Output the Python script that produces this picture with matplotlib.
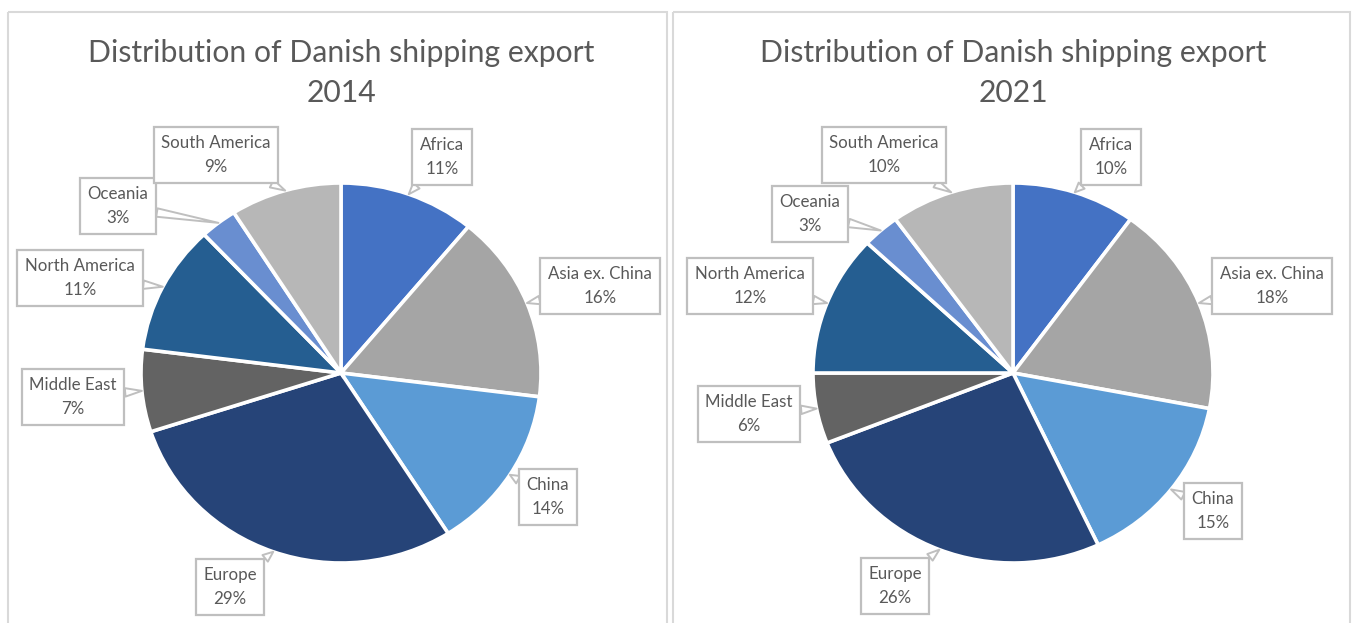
import matplotlib
matplotlib.use("Agg")
import matplotlib.pyplot as plt
from matplotlib.patches import Rectangle
import numpy as np

# ---------------- data ----------------
categories = ["Africa", "Asia ex. China", "China", "Europe", "Middle East",
              "North America", "Oceania", "South America"]
shares_2014 = [11, 16, 14, 29, 7, 11, 3, 9]
shares_2021 = [10, 18, 15, 26, 6, 12, 3, 10]
years = ["2014", "2021"]
title_text = "Distribution of Danish shipping export"

# ---------------- style / layout ----------------
colors = ["#4472C4", "#A5A5A5", "#5B9BD5", "#264478", "#636363",
          "#255E91", "#698ED0", "#B7B7B7"]
FW, FH = 1357, 623
FONT = ["Lato", "DejaVu Sans"]
TEXT_COL = "#595959"
BOX_COL = "#BFBFBF"
RX, RY = 200, 190                       # pie radii in pixels
centers = [(341, 373), (1013, 373)]     # pie centres in pixels
panels = [(8, 12, 659, 640), (673, 12, 677, 640)]
label_pos = [
    [(442, 157), (600, 286), (548, 497), (230, 587), (73, 397), (80, 278), (118, 206), (216, 155)],
    [(1111, 157), (1272, 286), (1213, 511), (895, 586), (749, 414), (750, 286), (810, 214), (884, 155)],
]

fig = plt.figure(figsize=(FW / 100, FH / 100), dpi=100)
bg = fig.add_axes([0, 0, 1, 1])
bg.set_xlim(0, FW)
bg.set_ylim(FH, 0)
bg.axis("off")

for (x0, y0, w, h) in panels:
    bg.add_patch(Rectangle((x0, y0), w, h, fill=False, ec="#D9D9D9", lw=1.5))

for k, (vals, year) in enumerate(zip([shares_2014, shares_2021], years)):
    cx, cy = centers[k]
    W, H = 700, 600
    ax = fig.add_axes([(cx - W / 2) / FW, (FH - cy - H / 2) / FH, W / FW, H / FH])
    wedges, _ = ax.pie(vals, colors=colors, startangle=90, counterclock=False,
                       wedgeprops=dict(edgecolor="white", linewidth=2.6))
    ax.set_aspect("auto")
    ax.set_xlim(-W / 2 / RX, W / 2 / RX)
    ax.set_ylim(-H / 2 / RY, H / 2 / RY)
    ax.axis("off")

    bg.text(cx, 53, title_text, ha="center", va="center", fontsize=21.7,
            color=TEXT_COL, family=FONT)
    bg.text(cx, 93, year, ha="center", va="center", fontsize=21.7,
            color=TEXT_COL, family=FONT)

    total = float(sum(vals))
    for i, w in enumerate(wedges):
        mid = np.deg2rad((w.theta1 + w.theta2) / 2)
        tip = (np.cos(mid), np.sin(mid))
        pct = round(vals[i] / total * 100)
        ax.annotate(f"{categories[i]}\n{pct}%", xy=tip, xycoords="data",
                    xytext=label_pos[k][i], textcoords=bg.transData,
                    ha="center", va="center", fontsize=12.2, color=TEXT_COL,
                    family=FONT, linespacing=1.65, annotation_clip=False,
                    bbox=dict(boxstyle="square,pad=0.45", fc="white", ec=BOX_COL, lw=1.6),
                    arrowprops=dict(arrowstyle="wedge,tail_width=0.5,shrink_factor=0.5",
                                    fc="white", ec=BOX_COL, lw=1.4,
                                    shrinkA=0, shrinkB=0))

fig.savefig("out.png", dpi=100, facecolor="white")
